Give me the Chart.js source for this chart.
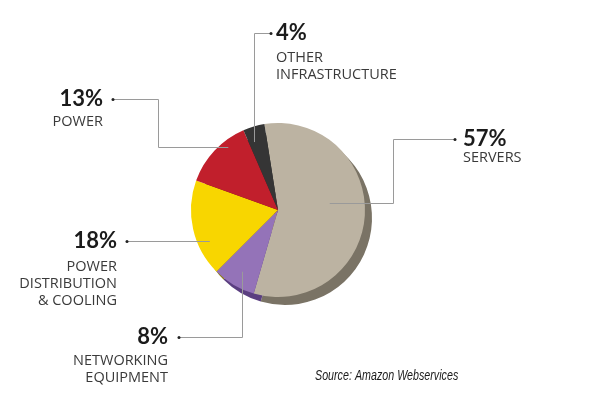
<!DOCTYPE html>
<html>
<head>
<meta charset="utf-8">
<script src="https://cdn.jsdelivr.net/npm/chart.js@4/dist/chart.umd.min.js"></script>
<style>
  html, body { margin: 0; padding: 0; background: #fff; }
  #wrap { width: 600px; height: 394px; position: relative; }
</style>
</head>
<body>
<div id="wrap"><canvas id="pie"></canvas></div>
<script>
// data, clockwise from the top
const categories = ["SERVERS", "NETWORKING EQUIPMENT", "POWER DISTRIBUTION & COOLING", "POWER", "OTHER INFRASTRUCTURE"];
const shares = [57, 8, 18, 13, 4];
const labelLines = [
  ["SERVERS"],
  ["NETWORKING", "EQUIPMENT"],
  ["POWER", "DISTRIBUTION", "& COOLING"],
  ["POWER"],
  ["OTHER", "INFRASTRUCTURE"]
];
const sourceNote = "Source: Amazon Webservices";

const sliceColors = ["#bcb3a2", "#9473b8", "#f8d600", "#c11f2c", "#353535"];
const shadowColors = ["#7a7365", "#5b3f80", "#8c7a12", "#6e1219", "#222222"];

// where each callout sits and how its leader line runs
// t = position along the slice (0..1), r = fraction of radius
// route "v": across then down/up; "hvh": across, down, across; "h": straight across
const callouts = [
  { dot: [455, 139], side: "left",  textX: 463, pctY: 146, lineY: 162, route: "hvh", elbowX: 393, t: 0.445, r: 0.6 },
  { dot: [179, 337], side: "right", textX: 168, pctY: 344, lineY: 365, route: "v",   t: 0.48, r: 0.82 },
  { dot: [127, 241], side: "right", textX: 117, pctY: 248, lineY: 271, route: "h",   t: 0.32, r: 0.86 },
  { dot: [113,  99], side: "right", textX: 103, pctY: 106, lineY: 126, route: "hvh", elbowX: 158, t: 0.68, r: 0.92 },
  { dot: [271,  33], side: "left",  textX: 276, pctY: 40,  lineY: 62,  route: "v",   t: 0.25, r: 0.83 }
];

const shadowPlugin = {
  id: "sliceShadow",
  beforeDatasetsDraw(chart) {
    const ctx = chart.ctx;
    const meta = chart.getDatasetMeta(0);
    ctx.save();
    meta.data.forEach((arc, i) => {
      const p = arc.getProps(["x", "y", "startAngle", "endAngle", "outerRadius"], true);
      const cx = p.x + 7, cy = p.y + 8;
      ctx.beginPath();
      ctx.moveTo(cx, cy);
      ctx.arc(cx, cy, p.outerRadius, p.startAngle, p.endAngle);
      ctx.closePath();
      ctx.fillStyle = shadowColors[i];
      ctx.fill();
    });
    ctx.restore();
  }
};

const calloutPlugin = {
  id: "callouts",
  afterDatasetsDraw(chart) {
    const ctx = chart.ctx;
    const meta = chart.getDatasetMeta(0);
    ctx.save();
    meta.data.forEach((arc, i) => {
      const c = callouts[i];
      const p = arc.getProps(["x", "y", "startAngle", "endAngle", "outerRadius"], true);
      const a = p.startAngle + c.t * (p.endAngle - p.startAngle);
      const ex = p.x + Math.cos(a) * p.outerRadius * c.r;
      const ey = p.y + Math.sin(a) * p.outerRadius * c.r;
      const [dx, dy] = c.dot;

      // leader line
      ctx.strokeStyle = "#9a9a9a";
      ctx.lineWidth = 1;
      ctx.beginPath();
      ctx.moveTo(dx, dy + 0.5);
      if (c.route === "v") {
        ctx.lineTo(Math.round(ex) + 0.5, dy + 0.5);
        ctx.lineTo(Math.round(ex) + 0.5, ey);
      } else if (c.route === "hvh") {
        ctx.lineTo(c.elbowX + 0.5, dy + 0.5);
        ctx.lineTo(c.elbowX + 0.5, Math.round(ey) + 0.5);
        ctx.lineTo(ex, Math.round(ey) + 0.5);
      } else {
        ctx.lineTo(ex, dy + 0.5);
      }
      ctx.stroke();

      // dot at the label end
      ctx.fillStyle = "#222";
      ctx.beginPath();
      ctx.arc(dx, dy + 0.5, 1.5, 0, Math.PI * 2);
      ctx.fill();

      // percentage and category text
      ctx.textAlign = c.side === "left" ? "left" : "right";
      ctx.textBaseline = "alphabetic";
      ctx.fillStyle = "#1b1b1b";
      ctx.font = "bold 22px Lato, 'Open Sans', sans-serif";
      ctx.fillText(shares[i] + "%", c.textX, c.pctY);
      ctx.fillStyle = "#3a3a3a";
      ctx.font = "14.5px 'Open Sans', Lato, sans-serif";
      labelLines[i].forEach((line, k) => {
        ctx.fillText(line, c.textX, c.lineY + k * 17);
      });
    });

    // source note, squeezed to look condensed
    ctx.textAlign = "left";
    ctx.fillStyle = "#1a1a1a";
    ctx.font = "italic 14px 'Liberation Sans', Arial, sans-serif";
    ctx.translate(315, 380);
    ctx.scale(0.765, 1);
    ctx.fillText(sourceNote, 0, 0);
    ctx.restore();
  }
};

new Chart(document.getElementById("pie"), {
  type: "pie",
  data: {
    labels: categories,
    datasets: [{
      data: shares,
      backgroundColor: sliceColors,
      borderWidth: 0
    }]
  },
  options: {
    animation: false,
    responsive: true,
    maintainAspectRatio: false,
    rotation: -9,
    layout: { padding: { left: 191, right: 235, top: 123, bottom: 97 } },
    plugins: {
      legend: { display: false },
      tooltip: { enabled: false }
    }
  },
  plugins: [shadowPlugin, calloutPlugin]
});
</script>
</body>
</html>
